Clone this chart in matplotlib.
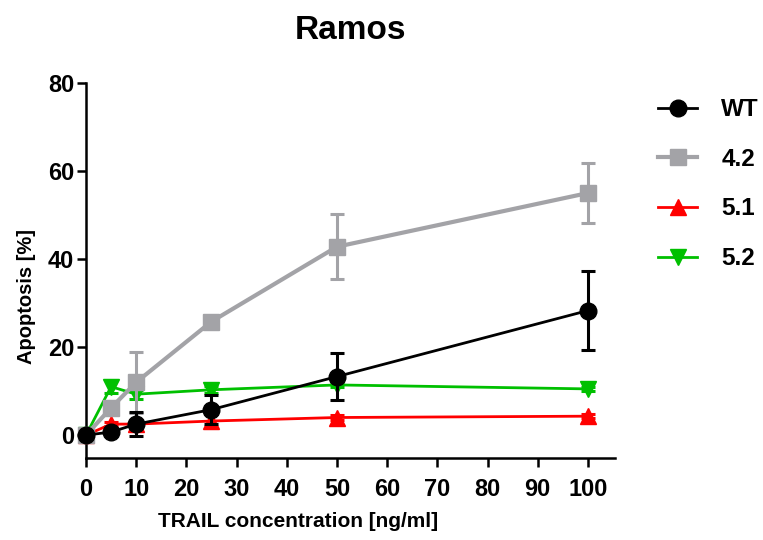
import matplotlib
matplotlib.use("Agg")
import matplotlib.pyplot as plt
from matplotlib.lines import Line2D

plt.rcParams['font.family'] = ['Liberation Sans', 'DejaVu Sans']
plt.rcParams['font.weight'] = 'bold'

conc = [0, 5, 10, 25, 50, 100]

wt = [0, 0.7, 2.5, 5.8, 13.3, 28.3]
wt_err = [0, 0, 2.8, 3.2, 5.4, 8.9]

c42 = [0, 6.2, 12.0, 25.8, 42.8, 55.0]
c42_err = [0, 1.5, 6.9, 1.2, 7.4, 6.9]

c51 = [0, 2.5, 2.5, 3.2, 4.0, 4.3]
c51_err = [0, 0.5, 1.0, 1.5, 0.5, 0.5]

c52 = [0, 11.0, 9.3, 10.3, 11.4, 10.5]
c52_err = [0, 1.5, 1.0, 0.8, 0.5, 0.5]

labels = ['WT', '4.2', '5.1', '5.2']
colors = ['black', '#A3A3A7', '#FF0000', '#00C000']
markers = ['o', 's', '^', 'v']
x_ticks = list(range(0, 101, 10))
y_ticks = [0, 20, 40, 60, 80]

fig = plt.figure(figsize=(7.63, 5.40), dpi=100)
# axes box: x 86..615 px, y 83..458 px
ax = fig.add_axes([86 / 763, 1 - 458 / 540, (615 - 86) / 763, (458 - 83) / 540])

series = [(wt, wt_err), (c42, c42_err), (c51, c51_err), (c52, c52_err)]
zs = [10, 8, 7, 6]
handles = []
for (y, e), lab, col, mk, z in zip(series, labels, colors, markers, zs):
    lw = 3 if lab == '4.2' else 2
    ms = 12 if mk == 'o' else 11
    h = ax.errorbar(conc, y, yerr=e, color=col, marker=mk, markersize=ms,
                    linewidth=lw, elinewidth=2.2, capsize=5, capthick=2.2,
                    zorder=z, clip_on=False)
    h.lines[0].set_clip_on(False)
    handles.append(Line2D([], [], color=col, marker=mk, markersize=ms, linewidth=lw))

ax.set_xlim(0, 105.4)
ax.set_ylim(-5.2, 80)
ax.set_xticks(x_ticks)
ax.set_yticks(y_ticks)

for s in ['top', 'right']:
    ax.spines[s].set_visible(False)
for s in ['left', 'bottom']:
    ax.spines[s].set_linewidth(1.8)
ax.tick_params(width=1.8, length=6.5, labelsize=17)
ax.tick_params(axis='x', pad=8)
ax.tick_params(axis='y', pad=2)

ax.set_xlabel('TRAIL concentration [ng/ml]', fontsize=15, fontweight='bold', labelpad=8)
ax.xaxis.set_label_coords((298 - 86) / (615 - 86), -0.145)
ax.set_ylabel('Apoptosis [%]', fontsize=14.5, fontweight='bold')
ax.yaxis.set_label_coords(-0.094, (458 - 297) / (458 - 83))
ax.set_title('Ramos', fontsize=24, fontweight='bold', pad=32)

fig.legend(handles=handles, labels=labels, loc='upper left',
           bbox_to_anchor=(0.834, 0.859), frameon=False, fontsize=17.5,
           handlelength=1.6, labelspacing=1.1, handletextpad=1.0)

fig.savefig('out.png', dpi=100)
